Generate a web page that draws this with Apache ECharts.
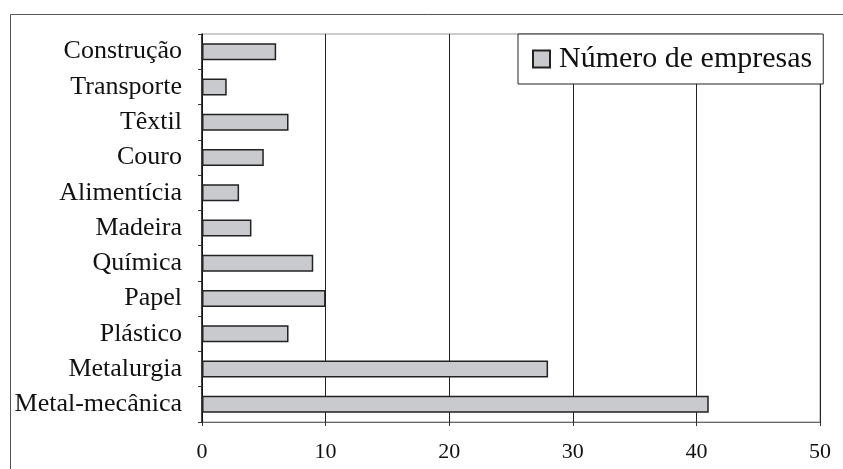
<!DOCTYPE html>
<html>
<head>
<meta charset="utf-8">
<script src="https://cdn.jsdelivr.net/npm/echarts@6/dist/echarts.min.js"></script>
<style>
html,body{margin:0;padding:0;background:#fff;}
#c{width:843px;height:469px;}
</style>
</head>
<body>
<div id="c"></div>
<script>
const categories = ['Construção','Transporte','Têxtil','Couro','Alimentícia','Madeira','Química','Papel','Plástico','Metalurgia','Metal-mecânica'];
const empresas = [6, 2, 7, 5, 3, 4, 9, 10, 7, 28, 41];
const seriesName = 'Número de empresas';
const xTicks = {min: 0, max: 50, interval: 10};

const chart = echarts.init(document.getElementById('c'), null, {renderer: 'canvas'});
const serif = 'Liberation Serif, Times New Roman, serif';
chart.setOption({
  animation: false,
  backgroundColor: '#fff',
  graphic: [{
    type: 'rect',
    shape: {x: 10.5, y: 14.5, width: 900, height: 520},
    style: {fill: 'none', stroke: '#555', lineWidth: 1}
  }],
  grid: {left: 202, top: 34, right: 23, bottom: 47, show: true, borderColor: '#999', borderWidth: 1, backgroundColor: 'transparent'},
  legend: {
    data: [seriesName],
    left: 518, top: 34,
    orient: 'horizontal',
    icon: 'rect',
    itemWidth: 17, itemHeight: 17,
    padding: [10, 11, 10, 14],
    borderColor: '#222', borderWidth: 1,
    backgroundColor: '#fff',
    textStyle: {fontFamily: serif, fontSize: 30, color: '#111', padding: [0, 0, 0, 4]}
  },
  xAxis: {
    type: 'value',
    min: xTicks.min, max: xTicks.max, interval: xTicks.interval,
    axisLine: {show: true, lineStyle: {color: '#666', width: 1}},
    axisTick: {show: true, length: 4, lineStyle: {color: '#333'}},
    axisLabel: {fontFamily: serif, fontSize: 22, color: '#111', margin: 19},
    splitLine: {show: true, lineStyle: {color: '#222', width: 1}}
  },
  yAxis: {
    type: 'category',
    data: categories,
    inverse: true,
    axisLine: {show: true, lineStyle: {color: '#111', width: 1.5}},
    axisTick: {show: true, length: 4, lineStyle: {color: '#333'}},
    axisLabel: {fontFamily: serif, fontSize: 26, color: '#111', margin: 20},
    splitLine: {show: false}
  },
  series: [{
    name: seriesName,
    type: 'bar',
    data: empresas,
    barWidth: 17,
    itemStyle: {color: '#c8cacd', borderColor: '#222', borderWidth: 1.5}
  }]
});
</script>
</body>
</html>
